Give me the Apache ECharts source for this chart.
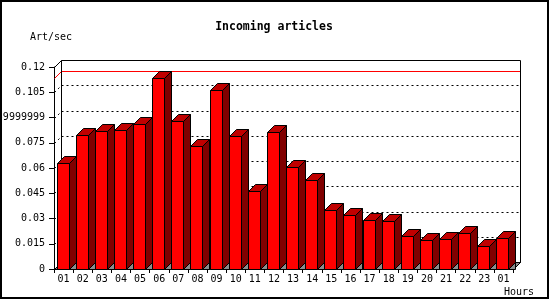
<!DOCTYPE html>
<html><head><meta charset="utf-8">
<script src="https://cdn.jsdelivr.net/npm/echarts@6/dist/echarts.min.js"></script>
<style>html,body{margin:0;padding:0;background:#fff}#c{width:550px;height:300px}</style>
</head><body><div id="c"></div><script>
const hours = ['01','02','03','04','05','06','07','08','09','10','11','12','13','14','15','16','17','18','19','20','21','22','23','01'];
const artPerSec = [0.0632,0.0794,0.0818,0.0824,0.0860,0.1133,0.0878,0.0733,0.1062,0.0788,0.0462,0.0812,0.0604,0.0527,0.0349,0.0319,0.0289,0.0283,0.0194,0.0171,0.0176,0.0216,0.0135,0.0182];
const yTicks = [0,0.015,0.03,0.045,0.06,0.075,0.09,0.105,0.12];
const yTickLabels = ['0','0.015','0.03','0.045','0.06','0.075','0.089999999','0.105','0.12'];
const titleText = 'Incoming articles';
const yName = 'Art/sec';
const xName = 'Hours';

const DX = 7, DY = 7;
const MONO = 'DejaVu Sans Mono';
const maxVal = Math.max.apply(null, artPerSec);

const chart = echarts.init(document.getElementById('c'), null, {renderer: 'canvas'});
const r = v => Math.round(v) + 0.5;

chart.setOption({
  animation: false,
  backgroundColor: '#fff',
  grid: {left: 54, right: 37, top: 67, bottom: 31, containLabel: false, outerBoundsMode: 'none'},
  xAxis: {
    type: 'category', data: hours, boundaryGap: true,
    axisLine: {show: true, lineStyle: {color: '#000', width: 1}},
    axisTick: {show: true, length: 4, lineStyle: {color: '#000'}},
    axisLabel: {margin: 5, color: '#000', fontFamily: MONO, fontSize: 10, interval: 0, hideOverlap: false},
    splitLine: {show: false}
  },
  yAxis: {
    type: 'value', min: 0, max: 0.12, interval: 0.015,
    axisLine: {show: true, lineStyle: {color: '#000', width: 1}},
    axisTick: {show: true, length: 5, lineStyle: {color: '#000'}},
    axisLabel: {margin: 9, color: '#000', fontFamily: MONO, fontSize: 10, hideOverlap: false,
      formatter: (v, i) => yTickLabels[i]},
    splitLine: {show: false}
  },
  graphic: [
    {type: 'rect', shape: {x: 1, y: 1, width: 547, height: 297}, style: {fill: 'none', stroke: '#000', lineWidth: 2}, z: 100},
    {type: 'text', x: 274, y: 27, style: {text: titleText, font: 'bold 11.5px "DejaVu Sans Mono"', fill: '#000', textAlign: 'center', textVerticalAlign: 'middle'}},
    {type: 'text', x: 30, y: 37, style: {text: yName, font: '10px "DejaVu Sans Mono"', fill: '#000', textAlign: 'left', textVerticalAlign: 'middle'}},
    {type: 'text', x: 504, y: 292, style: {text: xName, font: '10px "DejaVu Sans Mono"', fill: '#000', textAlign: 'left', textVerticalAlign: 'middle'}}
  ],
  series: [
    {
      type: 'custom', z: 1, clip: false, silent: true,
      data: [[0, 0]],
      renderItem: function (params, api) {
        const cs = params.coordSys;
        const L = r(cs.x), R = r(cs.x + cs.width), T = r(cs.y), B = r(cs.y + cs.height);
        const ch = [];
        ch.push({type: 'polygon', shape: {points: [[L, B], [R, B], [R + DX, B - DY], [L + DX, B - DY]]},
          style: {fill: '#8c8c8c', stroke: '#000', lineWidth: 1}});
        yTicks.forEach(function (t, i) {
          if (i === 0 || i === yTicks.length - 1) return;
          const y = r(api.coord([0, t])[1]);
          ch.push({type: 'line', shape: {x1: L + DX, y1: y - DY, x2: R + DX, y2: y - DY},
            style: {stroke: '#000', lineWidth: 1, lineDash: [2, 3]}});
          ch.push({type: 'line', shape: {x1: L, y1: y, x2: L + DX, y2: y - DY},
            style: {stroke: '#000', lineWidth: 1, lineDash: [2, 3]}});
        });
        const ym = r(api.coord([0, maxVal])[1]);
        ch.push({type: 'polyline', shape: {points: [[L, ym], [L + DX, ym - DY], [R + DX, ym - DY]]},
          style: {stroke: '#ff0000', lineWidth: 1, fill: 'none'}});
        ch.push({type: 'polyline', shape: {points: [[L, T], [L + DX, T - DY], [R + DX, T - DY], [R + DX, B - DY], [R, B]]},
          style: {stroke: '#000', lineWidth: 1, fill: 'none'}});
        ch.push({type: 'line', shape: {x1: L + DX, y1: T - DY, x2: L + DX, y2: B - DY},
          style: {stroke: '#000', lineWidth: 1}});
        return {type: 'group', children: ch};
      }
    },
    {
      type: 'custom', z: 2, clip: false, silent: true,
      data: artPerSec.map((v, i) => [i, v]),
      encode: {x: 0, y: 1},
      renderItem: function (params, api) {
        const idx = api.value(0), v = api.value(1);
        const top = api.coord([idx, v]);
        const base = api.coord([idx, 0]);
        const x0 = r(top[0] - 7), x1 = x0 + 12;
        const yT = r(top[1]), yB = r(base[1]);
        const st = {stroke: '#000', lineWidth: 1};
        return {type: 'group', children: [
          {type: 'polygon', shape: {points: [[x1, yB], [x1 + DX, yB - DY], [x1 + DX, yB]]},
            style: Object.assign({fill: '#8c8c8c'}, st)},
          {type: 'polygon', shape: {points: [[x1, yT], [x1 + DX, yT - DY], [x1 + DX, yB - DY], [x1, yB]]},
            style: Object.assign({fill: '#800000'}, st)},
          {type: 'polygon', shape: {points: [[x0, yT], [x0 + DX, yT - DY], [x1 + DX, yT - DY], [x1, yT]]},
            style: Object.assign({fill: '#c00000'}, st)},
          {type: 'rect', shape: {x: x0, y: yT, width: x1 - x0, height: yB - yT},
            style: Object.assign({fill: '#ff0000'}, st)}
        ]};
      }
    }
  ]
});
</script></body></html>
